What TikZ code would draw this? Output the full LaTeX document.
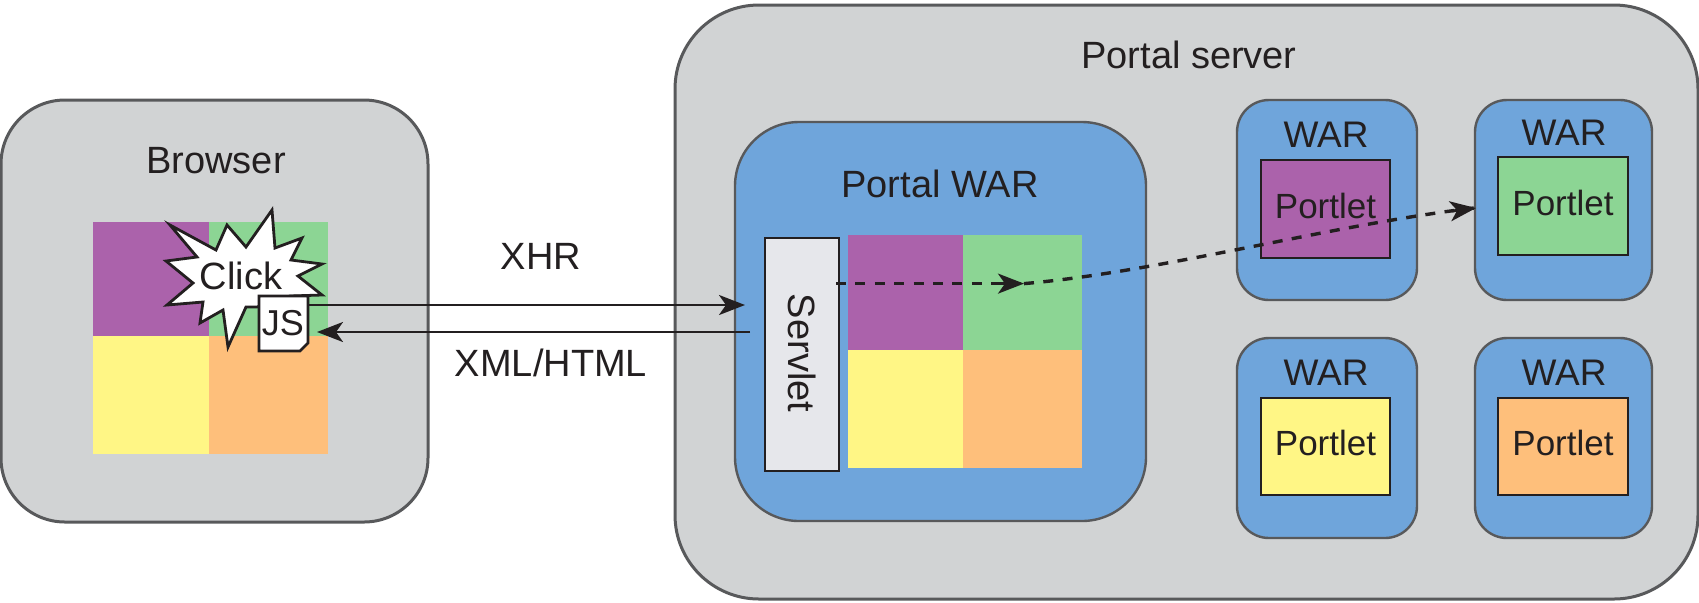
\documentclass[tikz,border=0pt]{standalone}
\usepackage{fontspec}
\setmainfont{Liberation Sans}
\usetikzlibrary{arrows.meta}
\definecolor{cGrey}{HTML}{D1D3D4}
\definecolor{cBlue}{HTML}{6FA5DB}
\definecolor{cPurple}{HTML}{AB62AB}
\definecolor{cGreen}{HTML}{8CD594}
\definecolor{cYellow}{HTML}{FFF685}
\definecolor{cOrange}{HTML}{FEBF7B}
\definecolor{cServlet}{HTML}{E6E7EB}
\definecolor{cInk}{HTML}{231F20}
\definecolor{cEdge}{HTML}{58595B}
\newcommand\pxbox[7][]{\node[inner sep=0pt,minimum width={(#5-#3)*0.5pt},minimum height={(#6-#4)*0.5pt},#1] (#2) at ({(#3+#5)/2},{(#4+#6)/2}) {#7};}
\newcommand\portlettext{\raisebox{3.5pt}{Portlet}}
\tikzset{
  greybox/.style={fill=cGrey,draw=cEdge,line width=1.5pt},
  bluebox/.style={fill=cBlue,draw=cEdge,line width=1.2pt},
  portletbox/.style={draw=cInk,line width=1.4pt,font=\fontsize{17.5}{20}\selectfont,text=cInk},
  lbl/.style={font=\fontsize{19}{22}\selectfont,text=cInk,inner sep=0pt},
  warlbl/.style={font=\fontsize{18.5}{22}\selectfont,text=cInk,inner sep=0pt},
  conn/.style={draw=cInk,line width=1.4pt},
  tip/.style={-{Stealth[length=13pt,width=10pt,inset=3.5pt]}},
  dashconn/.style={draw=cInk,line width=1.7pt,dash pattern=on 5pt off 4.7pt},
}
\begin{document}
\begin{tikzpicture}[x=0.5pt,y=-0.5pt]
\useasboundingbox (0,0) rectangle (1699,602);
% browser
\pxbox[greybox,rounded corners=32pt]{browser}{1}{100}{428}{522}{}
\node[lbl] (browserlbl) at (216,161) {Browser};
\pxbox[fill=cPurple]{bP}{93}{222}{209}{336}{}
\pxbox[fill=cGreen]{bG}{209}{222}{328}{336}{}
\pxbox[fill=cYellow]{bY}{93}{336}{209}{454}{}
\pxbox[fill=cOrange]{bO}{209}{336}{328}{454}{}
\draw[fill=white,draw=cInk,line width=1.4pt,line join=miter]
 (170,225) -- (216,250) -- (227,225) -- (246,247) -- (272,210) -- (275,248) -- (302,238) -- (291,260) -- (322,264) -- (298,276) -- (322,295) -- (290,296) -- (257,307) -- (246,307) -- (228,347) -- (223,310) -- (200,323) -- (203,302) -- (167,305) -- (193,283) -- (166,261) -- (197,257) -- cycle;
\node[font=\fontsize{19}{20}\selectfont,text=cInk,inner sep=0pt] (click) at (241,276) {Click};
\draw[fill=white,draw=cInk,line width=1.4pt] (259,296) -- (308,296) -- (308,343) -- (300,351) -- (259,351) -- cycle;
\node[font=\fontsize{18}{20}\selectfont,text=cInk,inner sep=0pt] (js) at (283,323) {JS};
% server
\pxbox[greybox,rounded corners=42pt]{server}{675}{5}{1698}{599}{}
\node[lbl] (serverlbl) at (1189,55) {Portal server};
\pxbox[bluebox,rounded corners=32pt]{portalwar}{735}{122}{1146}{521}{}
\node[lbl] (portalwarlbl) at (940,184) {Portal WAR};
\pxbox[draw=cInk,fill=cServlet,line width=1.4pt]{servlet}{765}{238}{839}{471}{}
\node[lbl,rotate=-90] (servletlbl) at (802,353) {Servlet};
\pxbox[fill=cPurple]{wP}{848}{235}{963}{350}{}
\pxbox[fill=cGreen]{wG}{963}{235}{1082}{350}{}
\pxbox[fill=cYellow]{wY}{848}{350}{963}{468}{}
\pxbox[fill=cOrange]{wO}{963}{350}{1082}{468}{}
% wars
\pxbox[bluebox,rounded corners=16pt]{warA}{1237}{100}{1417}{300}{}
\pxbox[bluebox,rounded corners=16pt]{warB}{1475}{100}{1652}{300}{}
\pxbox[bluebox,rounded corners=16pt]{warC}{1237}{338}{1417}{538}{}
\pxbox[bluebox,rounded corners=16pt]{warD}{1475}{338}{1652}{538}{}
\node[warlbl] (lA) at (1326,135) {WAR};
\node[warlbl] (lB) at (1564,133) {WAR};
\node[warlbl] (lC) at (1326,373) {WAR};
\node[warlbl] (lD) at (1564,373) {WAR};
\pxbox[portletbox,fill=cPurple]{pA}{1261}{160}{1390}{258}{\portlettext}
\pxbox[portletbox,fill=cGreen]{pB}{1498}{157}{1628}{255}{\portlettext}
\pxbox[portletbox,fill=cYellow]{pC}{1261}{398}{1390}{495}{\portlettext}
\pxbox[portletbox,fill=cOrange]{pD}{1498}{398}{1628}{495}{\portlettext}
% connectors
\coordinate (jsOut) at (308,305);
\coordinate (srvIn) at (745,305);
\coordinate (srvOut) at (750,332);
\coordinate (jsIn) at (317,332);
\draw[conn,tip] (jsOut) -- (srvIn);
\draw[conn,tip] (srvOut) -- (jsIn);
\node[lbl] (xhr) at (541,256) {XHR};
\node[lbl] (xml) at (551,363) {XML/HTML};
\coordinate (dStart) at (836,283.6);
\coordinate (dMid) at (1024,283.6);
\draw[dashconn] (dStart) -- (dMid);
\draw[dashconn] (dMid) .. controls (1160,272) and (1330,225) .. (1474,208);
\draw[draw=cInk,tip,line width=1.4pt] (1000,283.6) -- (dMid);
\draw[draw=cInk,tip,line width=1.4pt] (1452,211) -- (1476,208);
\end{tikzpicture}
\end{document}
